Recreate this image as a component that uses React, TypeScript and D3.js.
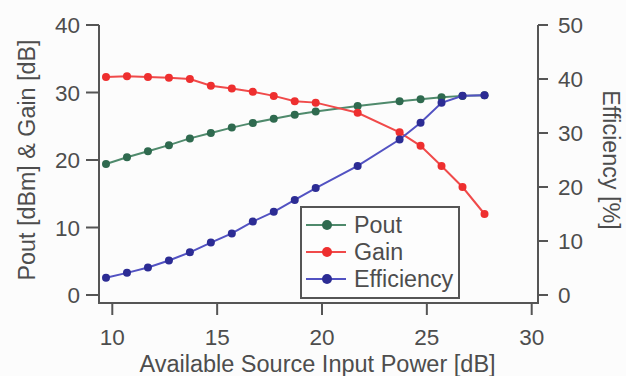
import React from "react";
import * as d3 from "d3";

const inputPower = [9.7, 10.7, 11.7, 12.7, 13.7, 14.7, 15.7, 16.7, 17.7, 18.7, 19.7, 21.7, 23.7, 24.7, 25.7, 26.7, 27.75];
const pout = [19.4, 20.4, 21.3, 22.2, 23.2, 24.0, 24.8, 25.5, 26.1, 26.7, 27.2, 28.0, 28.7, 29.0, 29.3, 29.5, 29.6];
const gain = [32.3, 32.4, 32.3, 32.2, 32.0, 31.0, 30.6, 30.1, 29.5, 28.7, 28.5, 27.0, 24.1, 22.1, 19.1, 16.0, 12.0];
const efficiency = [3.2, 4.1, 5.1, 6.4, 7.9, 9.7, 11.4, 13.6, 15.4, 17.6, 19.8, 23.9, 28.8, 31.9, 35.6, 36.9, 37.0];

const xTicks = [10, 15, 20, 25, 30];
const leftTicks = [0, 10, 20, 30, 40];
const rightTicks = [0, 10, 20, 30, 40, 50];

const seriesNames = ["Pout", "Gain", "Efficiency"];

const FONT = "Liberation Sans, Arial, sans-serif";
const AXIS = "#555";
const TEXT = "#4d4d4d";

export default function App() {
  const W = 626, H = 376;
  const x = d3.scaleLinear().domain([10, 30]).range([112.3, 531.7]);
  const yL = d3.scaleLinear().domain([0, 40]).range([295, 25]);
  const yR = d3.scaleLinear().domain([0, 50]).range([295, 25]);

  const axL = 99, axR = 538, axB = 303, axT = 25;

  const series = [
    { name: seriesNames[0], vals: pout, y: yL, line: "#4f8a6c", dot: "#2f6a4f" },
    { name: seriesNames[1], vals: gain, y: yL, line: "#f04a4a", dot: "#ee2f2f" },
    { name: seriesNames[2], vals: efficiency, y: yR, line: "#5252c2", dot: "#2c2c94" },
  ];

  const legX = 301, legY = 207, legW = 158, legH = 91;
  const rowY = [225, 252, 279];

  return (
    <svg width={W} height={H} style={{ position: "absolute", left: 0, top: 0, background: "#fcfcfc" }} fontFamily={FONT}>
      <rect x={0} y={0} width={W} height={H} fill="#fcfcfc" />
      {/* axes lines */}
      <path d={`M${axL},${axT}V${axB}H${axR}V${axT}`} fill="none" stroke={AXIS} strokeWidth={2} />
      {/* left ticks */}
      {leftTicks.map((t) => (
        <g key={"l" + t}>
          <line x1={axL - 13} x2={axL} y1={yL(t)} y2={yL(t)} stroke={AXIS} strokeWidth={2} />
          <text x={80} y={yL(t)} dy="0.36em" textAnchor="end" fontSize={22.5} fill={TEXT}>{t}</text>
        </g>
      ))}
      {/* right ticks */}
      {rightTicks.map((t) => (
        <g key={"r" + t}>
          <line x1={axR} x2={axR + 10} y1={yR(t)} y2={yR(t)} stroke={AXIS} strokeWidth={2} />
          <text x={558} y={yR(t)} dy="0.36em" textAnchor="start" fontSize={22.5} fill={TEXT}>{t}</text>
        </g>
      ))}
      {/* bottom ticks */}
      {xTicks.map((t) => (
        <g key={"b" + t}>
          <line x1={x(t)} x2={x(t)} y1={axB} y2={axB + 12} stroke={AXIS} strokeWidth={2} />
          <text x={x(t)} y={345} textAnchor="middle" fontSize={22.5} fill={TEXT}>{t}</text>
        </g>
      ))}
      {/* axis titles */}
      <text x={(138 + 497) / 2} y={372} textAnchor="middle" fontSize={23.5} fill={TEXT}>Available Source Input Power [dB]</text>
      <text transform={`translate(27,160) rotate(-90)`} textAnchor="middle" dy="0.36em" fontSize={23.3} fill={TEXT}>Pout [dBm] &amp; Gain [dB]</text>
      <text transform={`translate(611,160) rotate(90)`} textAnchor="middle" dy="0.36em" fontSize={23.3} fill={TEXT}>Efficiency [%]</text>

      {/* series */}
      {series.map((s) => {
        const line = d3.line<number>().x((_, i) => x(inputPower[i])).y((v) => s.y(v));
        return (
          <g key={s.name}>
            <path d={line(s.vals) || ""} fill="none" stroke={s.line} strokeWidth={2} />
            {s.vals.map((v, i) => (
              <circle key={i} cx={x(inputPower[i])} cy={s.y(v)} r={4} fill={s.dot} />
            ))}
          </g>
        );
      })}

      {/* legend */}
      <rect x={legX} y={legY} width={legW} height={legH} fill="#fdfdfd" stroke={AXIS} strokeWidth={2} />
      {series.map((s, i) => (
        <g key={"leg" + s.name}>
          <line x1={306} x2={346} y1={rowY[i]} y2={rowY[i]} stroke={s.line} strokeWidth={2} />
          <circle cx={327} cy={rowY[i]} r={5} fill={s.dot} />
          <text x={354} y={rowY[i]} dy="0.36em" fontSize={23.3} fill={TEXT}>{s.name}</text>
        </g>
      ))}
    </svg>
  );
}
